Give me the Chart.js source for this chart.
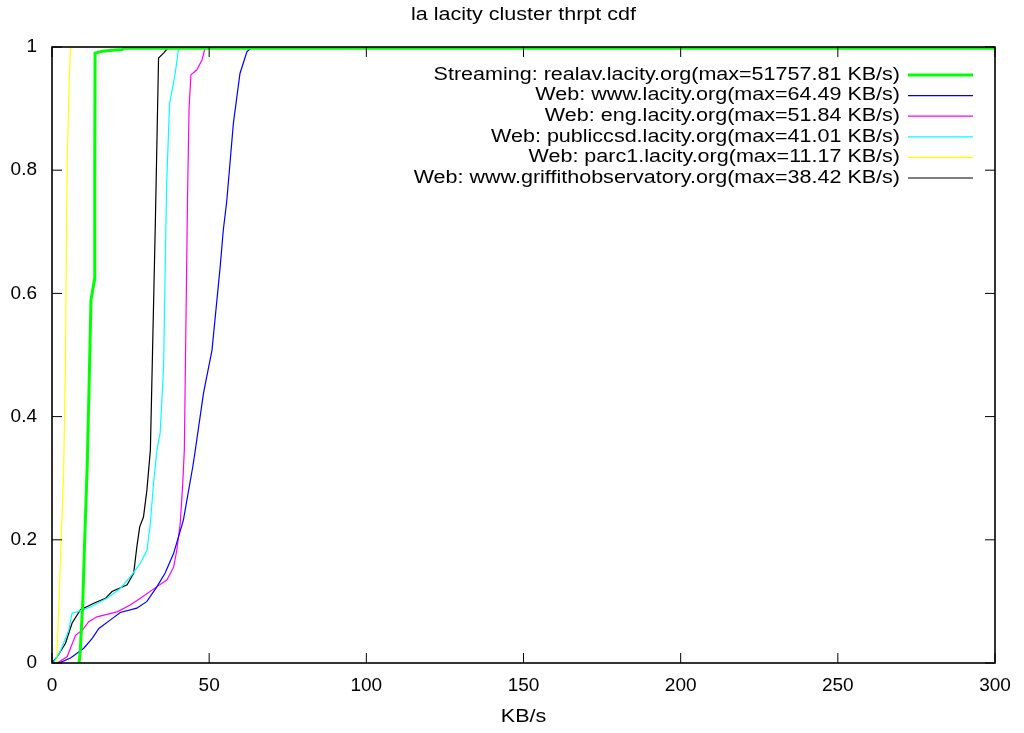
<!DOCTYPE html>
<html lang="en">
<head>
<meta charset="UTF-8">
<title>la lacity cluster thrpt cdf</title>
<script src="https://cdn.jsdelivr.net/npm/chart.js@4.4.1/dist/chart.umd.min.js"></script>
<style>
  html, body { margin: 0; padding: 0; background: #fff; }
  #wrap { width: 1024px; height: 733px; position: relative; }
</style>
</head>
<body>
<div id="wrap"><canvas id="chart"></canvas></div>
<script>
// CDF points (x in KB/s, y = cumulative fraction)
const streamX = [8.6, 9.0, 9.8, 10.4, 11.2, 11.8, 12.4, 13.5, 13.6, 13.7, 16, 20, 22.3, 23, 51757.81];
const streamY = [0, 0.02, 0.1, 0.2, 0.32, 0.45, 0.589, 0.622, 0.8, 0.99, 0.993, 0.995, 0.996, 0.998, 1];

const wwwX = [2.2, 5.9, 10.1, 12.8, 14.9, 18.6, 21.7, 27, 30.2, 33.4, 36, 38.7, 41.8, 44.8, 45.6, 48.2, 50.9, 53.5, 54.5, 55.6, 57.7, 59.8, 62, 63.6, 64.49];
const wwwY = [0, 0.008, 0.024, 0.04, 0.056, 0.07, 0.082, 0.089, 0.1, 0.124, 0.146, 0.178, 0.232, 0.319, 0.346, 0.438, 0.508, 0.643, 0.703, 0.75, 0.876, 0.957, 0.992, 1, 1];

const engX = [1.6, 4.8, 7.5, 9.6, 11.7, 14.3, 20.7, 24.9, 28.1, 33.4, 36.6, 38.7, 39.7, 40.8, 41.6, 42.1, 43.1, 43.6, 44.2, 46.1, 47.7, 48.7, 49.3, 51.84];
const engY = [0, 0.01, 0.045, 0.053, 0.067, 0.075, 0.083, 0.094, 0.105, 0.124, 0.135, 0.156, 0.183, 0.227, 0.292, 0.346, 0.75, 0.9, 0.955, 0.963, 0.979, 0.998, 1, 1];

const csdX = [0.4, 2.7, 5.3, 6.4, 8, 12.2, 17.5, 21.7, 25.4, 28.1, 30.2, 31.3, 32.3, 33.4, 34.4, 35.5, 36.2, 36.5, 37.4, 39.2, 40.3, 41.01];
const csdY = [0, 0.02, 0.053, 0.081, 0.083, 0.091, 0.105, 0.121, 0.143, 0.162, 0.183, 0.227, 0.292, 0.346, 0.373, 0.48, 0.7, 0.78, 0.908, 0.957, 1, 1];

const parcX = [1.5, 2.2, 2.7, 3.7, 4.3, 4.6, 4.9, 5.5, 5.9, 11.17];
const parcY = [0, 0.1, 0.17, 0.31, 0.5, 0.7, 0.83, 0.95, 1, 1];

const griffX = [0, 1.6, 4.3, 6.4, 9, 13.3, 17, 19.1, 23.9, 26, 27, 27.9, 29.1, 30.2, 31.3, 32.9, 33.9, 35.5, 37.1, 38.42];
const griffY = [0, 0.01, 0.032, 0.065, 0.086, 0.097, 0.105, 0.116, 0.127, 0.146, 0.189, 0.221, 0.237, 0.281, 0.346, 0.72, 0.982, 0.99, 1, 1];

const seriesLabels = [
  'Streaming: realav.lacity.org(max=51757.81 KB/s)',
  'Web: www.lacity.org(max=64.49 KB/s)',
  'Web: eng.lacity.org(max=51.84 KB/s)',
  'Web: publiccsd.lacity.org(max=41.01 KB/s)',
  'Web: parc1.lacity.org(max=11.17 KB/s)',
  'Web: www.griffithobservatory.org(max=38.42 KB/s)'
];
const xTickValues = [0, 50, 100, 150, 200, 250, 300];
const yTickValues = [0, 0.2, 0.4, 0.6, 0.8, 1];

const FONT = '"Liberation Sans", Arial, Helvetica, sans-serif';

function pts(xs, ys) {
  return xs.map((v, i) => ({ x: v, y: ys[i] }));
}

function stretchText(ctx, text, x, y, align, size) {
  ctx.save();
  ctx.font = size + 'px ' + FONT;
  ctx.fillStyle = '#000';
  ctx.textBaseline = 'middle';
  ctx.textAlign = align;
  ctx.translate(x, y);
  ctx.scale(1.23, 1);
  ctx.fillText(text, 0, 0);
  ctx.restore();
}

// gnuplot-like frame, inward ticks, title, axis label and key
const gnuFrame = {
  id: 'gnuFrame',
  afterDatasetsDraw(chart) {
    const ctx = chart.ctx, a = chart.chartArea;
    const xs = chart.scales.x, ys = chart.scales.y;
    ctx.save();
    ctx.strokeStyle = '#000';
    ctx.lineWidth = 1;
    ctx.beginPath();
    xs.ticks.forEach(t => {
      const px = xs.getPixelForValue(t.value);
      ctx.moveTo(px, a.bottom); ctx.lineTo(px, a.bottom - 10);
      ctx.moveTo(px, a.top); ctx.lineTo(px, a.top + 10);
    });
    ys.ticks.forEach(t => {
      const py = ys.getPixelForValue(t.value);
      ctx.moveTo(a.left, py); ctx.lineTo(a.left + 10, py);
      ctx.moveTo(a.right, py); ctx.lineTo(a.right - 10, py);
    });
    ctx.stroke();
    ctx.lineWidth = 1.6;
    ctx.strokeRect(a.left, a.top, a.right - a.left, a.bottom - a.top);
    ctx.restore();
  },
  afterDraw(chart) {
    const ctx = chart.ctx, a = chart.chartArea;
    stretchText(ctx, 'la lacity cluster thrpt cdf', (a.left + a.right) / 2, 15, 'center', 17.5);
    stretchText(ctx, 'KB/s', (a.left + a.right) / 2, 717, 'center', 17.5);

    // key
    chart.data.datasets.forEach((ds, i) => {
      const yy = 75 + i * 20.6;
      stretchText(ctx, ds.label, 900, yy, 'right', 17.5);
      ctx.save();
      ctx.strokeStyle = ds.borderColor;
      ctx.lineWidth = ds.borderWidth;
      ctx.beginPath();
      ctx.moveTo(908, yy);
      ctx.lineTo(973, yy);
      ctx.stroke();
      ctx.restore();
    });
  }
};

const colors = ['#00ff00', '#0000ff', '#ff00ff', '#00ffff', '#ffff00', '#000000'];
const widths = [3, 1.2, 1.2, 1.2, 1.2, 1.2];
const seriesPts = [
  pts(streamX, streamY), pts(wwwX, wwwY), pts(engX, engY),
  pts(csdX, csdY), pts(parcX, parcY), pts(griffX, griffY)
];

const config = {
  type: 'line',
  data: {
    datasets: seriesLabels.map((lbl, i) => ({
      label: lbl,
      data: seriesPts[i],
      borderColor: colors[i],
      backgroundColor: colors[i],
      borderWidth: widths[i],
      pointRadius: 0,
      tension: 0,
      fill: false,
      clip: 0
    }))
  },
  options: {
    responsive: true,
    maintainAspectRatio: false,
    animation: false,
    layout: { padding: { top: 47, right: 29, bottom: 0, left: 0 } },
    plugins: {
      legend: { display: false },
      title: { display: false },
      tooltip: { enabled: false }
    },
    scales: {
      x: {
        type: 'linear',
        min: 0, max: 300,
        afterBuildTicks: s => { s.ticks = xTickValues.map(v => ({ value: v })); },
        afterFit: s => { s.height = 70; },
        grid: { display: false, drawTicks: false },
        border: { display: false },
        ticks: {
          padding: 11,
          color: '#000',
          font: { family: FONT, size: 19 },
          callback: v => String(v)
        }
      },
      y: {
        type: 'linear',
        min: 0, max: 1,
        afterBuildTicks: s => { s.ticks = yTickValues.map(v => ({ value: v })); },
        afterFit: s => { s.width = 52; },
        grid: { display: false, drawTicks: false },
        border: { display: false },
        ticks: {
          padding: 15,
          color: '#000',
          font: { family: FONT, size: 19 },
          callback: v => String(v)
        }
      }
    }
  },
  plugins: [gnuFrame]
};

const chart = new Chart(document.getElementById('chart'), config);
</script>
</body>
</html>
